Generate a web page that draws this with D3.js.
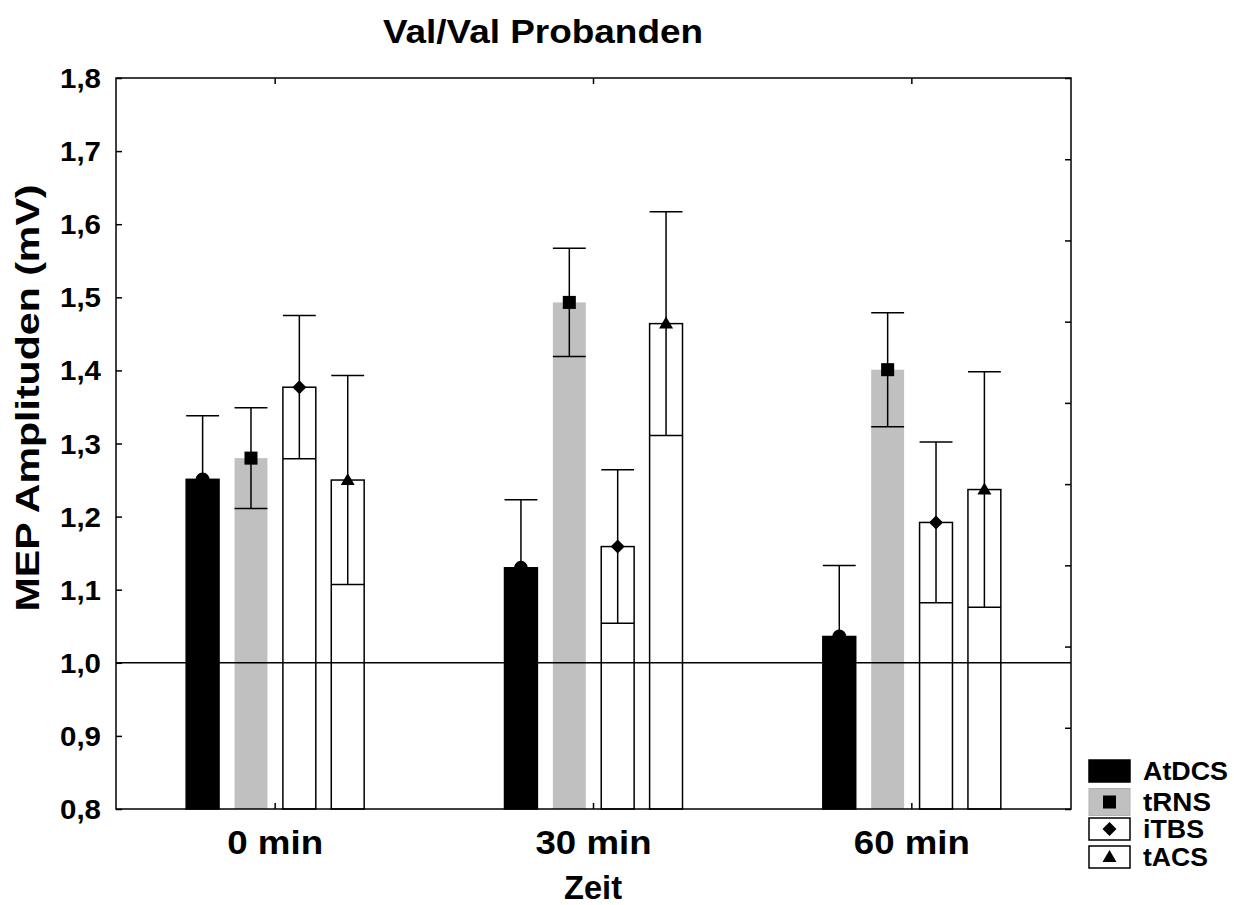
<!DOCTYPE html>
<html><head><meta charset="utf-8">
<script src="https://cdn.jsdelivr.net/npm/d3@7"></script>
<style>body{margin:0;background:#fff}svg{display:block}text{font-family:"Liberation Sans",Arial,sans-serif;font-weight:bold;fill:#000}</style>
</head><body>
<svg id="c" width="1234" height="905"></svg>
<script>
const categories = ["0 min", "30 min", "60 min"];
const seriesNames = ["AtDCS", "tRNS", "iTBS", "tACS"];
const meanAtDCS = [1.251, 1.130, 1.036];
const meanTRNS  = [1.280, 1.493, 1.401];
const meanITBS  = [1.377, 1.159, 1.192];
const meanTACS  = [1.250, 1.464, 1.237];
const errAtDCS = [0.087, 0.093, 0.097];
const errTRNS  = [0.069, 0.074, 0.078];
const errITBS  = [0.098, 0.105, 0.110];
const errTACS  = [0.143, 0.153, 0.161];
const yTicks = [0.8, 0.9, 1.0, 1.1, 1.2, 1.3, 1.4, 1.5, 1.6, 1.7, 1.8];
const refValue = 1.0;

const means = [meanAtDCS, meanTRNS, meanITBS, meanTACS];
const errs = [errAtDCS, errTRNS, errITBS, errTACS];
const fills = ["#000", "#c0c0c0", "#fff", "#fff"];
const strokes = ["#000", "none", "#000", "#000"];
const markers = ["circle", "square", "diamond", "triangle"];

const L = 116, R = 1071, T = 78, B = 809;
const svg = d3.select("#c");
const x0 = d3.scaleBand().domain(categories).range([L, R]);
const half = 89;
const x1 = d3.scaleBand().domain(seriesNames)
  .range([x0.bandwidth()/2 - half, x0.bandwidth()/2 + half]).paddingInner(0.32);
const y = d3.scaleLinear().domain([0.8, 1.8]).range([B, T]);

// title
svg.append("text").attr("x", 543).attr("y", 43).attr("text-anchor", "middle")
  .attr("font-size", 34).attr("textLength", 320).attr("lengthAdjust", "spacingAndGlyphs")
  .text("Val/Val Probanden");

// bars
const g = svg.append("g");
const rows = [];
categories.forEach((c, i) => seriesNames.forEach((s, j) => rows.push({c, s, j, m: means[j][i], e: errs[j][i]})));
g.selectAll("rect.bar").data(rows).join("rect").attr("class", "bar")
  .attr("x", d => x0(d.c) + x1(d.s)).attr("width", x1.bandwidth())
  .attr("y", d => y(d.m)).attr("height", d => y(0.8) - y(d.m))
  .attr("fill", d => fills[d.j]).attr("stroke", d => strokes[d.j]).attr("stroke-width", 1.5);

// error bars
const bx = d => x0(d.c) + x1(d.s);
const eb = g.selectAll("g.eb").data(rows).join("g").attr("class", "eb")
  .attr("stroke", "#000").attr("stroke-width", 1.5);
eb.append("line").attr("x1", d => bx(d) + x1.bandwidth()/2).attr("x2", d => bx(d) + x1.bandwidth()/2)
  .attr("y1", d => y(d.m + d.e)).attr("y2", d => y(d.m - d.e));
eb.append("line").attr("x1", bx).attr("x2", d => bx(d) + x1.bandwidth())
  .attr("y1", d => y(d.m + d.e)).attr("y2", d => y(d.m + d.e));
eb.append("line").attr("x1", bx).attr("x2", d => bx(d) + x1.bandwidth())
  .attr("y1", d => y(d.m - d.e)).attr("y2", d => y(d.m - d.e));

function markerPath(type) {
  if (type === "circle") return d3.symbol(d3.symbolCircle, 150)();
  if (type === "square") return d3.symbol(d3.symbolSquare, 170)();
  if (type === "diamond") return "M0,-7L7,0L0,7L-7,0Z";
  return "M0,-7L7,5L-7,5Z";
}
g.selectAll("path.mk").data(rows).join("path").attr("class", "mk")
  .attr("transform", d => `translate(${bx(d) + x1.bandwidth()/2},${y(d.m)})`)
  .attr("d", d => markerPath(markers[d.j])).attr("fill", "#000");

// reference line
svg.append("line").attr("x1", L).attr("x2", R).attr("y1", y(refValue)).attr("y2", y(refValue))
  .attr("stroke", "#000").attr("stroke-width", 1.5);

// frame
svg.append("rect").attr("x", L).attr("y", T).attr("width", R - L).attr("height", B - T)
  .attr("fill", "none").attr("stroke", "#000").attr("stroke-width", 1.5);

// left axis (inward ticks)
const fmt = v => d3.format(".1f")(v).replace(".", ",");
const la = svg.append("g").attr("transform", `translate(${L},0)`)
  .call(d3.axisRight(y).tickValues(yTicks).tickSize(6).tickFormat(""));
la.select(".domain").remove();
la.selectAll("line").attr("stroke-width", 1.5);
svg.append("g").selectAll("text").data(yTicks).join("text")
  .attr("x", 101).attr("y", d => y(d) + 10).attr("text-anchor", "end")
  .attr("font-size", 28).attr("textLength", 41).attr("lengthAdjust", "spacingAndGlyphs").text(fmt);

// right axis (inward ticks, 9 divisions)
const yr = d3.scaleLinear().domain([0, 9]).range([B, T]);
const ra = svg.append("g").attr("transform", `translate(${R},0)`)
  .call(d3.axisLeft(yr).ticks(9).tickSize(6).tickFormat(""));
ra.select(".domain").remove();
ra.selectAll("line").attr("stroke-width", 1.5);

// top/bottom ticks at category centres
const cx = c => x0(c) + x0.bandwidth()/2;
svg.append("g").selectAll("line").data(categories).join("line")
  .attr("x1", cx).attr("x2", cx).attr("y1", T).attr("y2", T + 6).attr("stroke", "#000").attr("stroke-width", 1.5);
svg.append("g").selectAll("line").data(categories).join("line")
  .attr("x1", cx).attr("x2", cx).attr("y1", B).attr("y2", B - 6).attr("stroke", "#000").attr("stroke-width", 1.5);

// x labels
const xw = {"0 min": 96, "30 min": 116, "60 min": 116};
svg.append("g").selectAll("text").data(categories).join("text")
  .attr("x", cx).attr("y", 854).attr("text-anchor", "middle").attr("font-size", 33)
  .attr("textLength", d => xw[d]).attr("lengthAdjust", "spacingAndGlyphs").text(d => d);
svg.append("text").attr("x", 593).attr("y", 899).attr("text-anchor", "middle").attr("font-size", 33)
  .attr("textLength", 58).attr("lengthAdjust", "spacingAndGlyphs").text("Zeit");

// y title
svg.append("text").attr("transform", "translate(39,398) rotate(-90)").attr("text-anchor", "middle")
  .attr("font-size", 34).attr("textLength", 427).attr("lengthAdjust", "spacingAndGlyphs")
  .text("MEP Amplituden (mV)");

// legend
const lg = svg.append("g");
const lrow = [771, 802, 829, 857];
seriesNames.forEach((s, j) => {
  const cy = lrow[j];
  const bh = j === 1 ? 27 : 22;
  lg.append("rect").attr("x", 1089).attr("y", cy - bh/2).attr("width", 41).attr("height", bh)
    .attr("fill", fills[j]).attr("stroke", j === 1 ? "#b0b0b0" : "#000").attr("stroke-width", j === 1 ? 1 : 1.5);
  if (j > 0) lg.append("path").attr("transform", `translate(1109.5,${cy})`)
    .attr("d", markerPath(markers[j])).attr("fill", "#000");
  lg.append("text").attr("x", 1143).attr("y", cy + 9).attr("font-size", 25)
    .attr("textLength", [85, 68, 61, 65][j]).attr("lengthAdjust", "spacingAndGlyphs").text(s);
});
</script>
</body></html>
